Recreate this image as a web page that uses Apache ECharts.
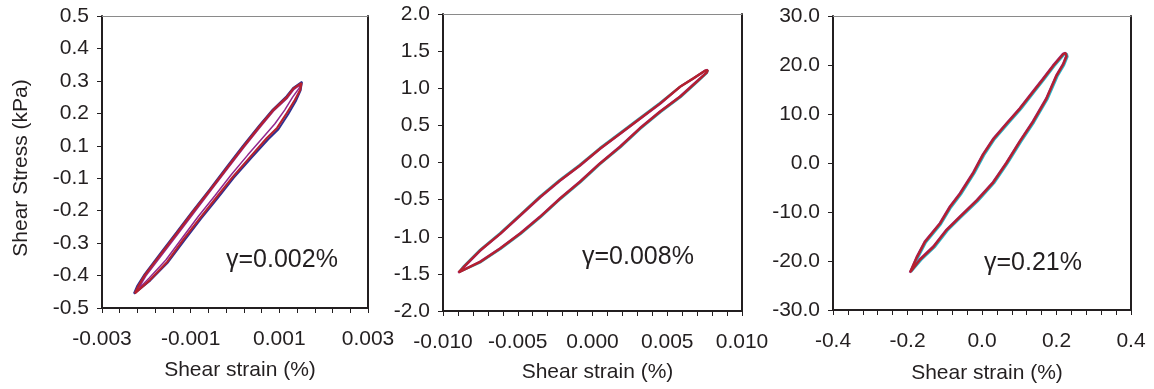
<!DOCTYPE html>
<html>
<head>
<meta charset="utf-8">
<script src="https://cdn.jsdelivr.net/npm/echarts@6/dist/echarts.min.js"></script>
<style>
html,body{margin:0;padding:0;background:#fff;}
#chart{width:1154px;height:389px;}
</style>
</head>
<body>
<div id="chart"></div>
<script>
// ---------- tick labels ----------
var yTicks1 = ['-0.5','-0.4','-0.3','-0.2','-0.1','0.1','0.2','0.3','0.4','0.5'];
var xTicks1 = ['-0.003','-0.001','0.001','0.003'];
var yTicks2 = ['-2.0','-1.5','-1.0','-0.5','0.0','0.5','1.0','1.5','2.0'];
var xTicks2 = ['-0.010','-0.005','0.000','0.005','0.010'];
var yTicks3 = ['-30.0','-20.0','-10.0','0.0','10.0','20.0','30.0'];
var xTicks3 = ['-0.4','-0.2','0.0','0.2','0.4'];
var gammaLabels = ['γ=0.002%','γ=0.008%','γ=0.21%'];
var xTitle = 'Shear strain (%)';
var yTitle = 'Shear Stress (kPa)';

// ---------- panel 1 (γ=0.002%) loops: [strain %, stress kPa] ----------
var p1Blue = [
[-0.00228,-0.406],[-0.00191,-0.365],[-0.00151,-0.309],[-0.00115,-0.243],[-0.00077,-0.175],
[-0.00039,-0.111],[-0.00003,-0.049],[0.00037,0.013],[0.00075,0.070],[0.00098,0.101],
[0.00120,0.147],[0.00137,0.187],[0.00148,0.221],[0.00151,0.247],[0.00131,0.228],
[0.00116,0.202],[0.00085,0.161],[0.00055,0.113],[0.00017,0.048],[-0.00019,-0.016],
[-0.00057,-0.084],[-0.00096,-0.152],[-0.00132,-0.217],[-0.00170,-0.285],[-0.00204,-0.346],
[-0.00221,-0.383],[-0.00228,-0.406]
];
var p1Purple = [
[-0.00224,-0.400],[-0.00194,-0.358],[-0.00156,-0.302],[-0.00120,-0.236],[-0.00083,-0.168],
[-0.00045,-0.103],[-0.00009,-0.040],[0.00029,0.022],[0.00066,0.080],[0.00090,0.118],
[0.00112,0.160],[0.00130,0.200],[0.00145,0.228],[0.00149,0.240],[0.00133,0.224],
[0.00118,0.197],[0.00087,0.157],[0.00057,0.108],[0.00019,0.043],[-0.00017,-0.021],
[-0.00055,-0.089],[-0.00093,-0.157],[-0.00129,-0.222],[-0.00167,-0.290],[-0.00201,-0.351],
[-0.00217,-0.388],[-0.00224,-0.400]
];
var p1Red = [
[-0.00226,-0.405],[-0.00192,-0.364],[-0.00153,-0.308],[-0.00117,-0.240],[-0.00079,-0.173],
[-0.00041,-0.108],[-0.00005,-0.046],[0.00034,0.015],[0.00072,0.074],[0.00095,0.105],
[0.00117,0.151],[0.00135,0.191],[0.00147,0.222],[0.00150,0.243],[0.00132,0.227],
[0.00117,0.200],[0.00086,0.160],[0.00056,0.111],[0.00018,0.046],[-0.00018,-0.018],
[-0.00056,-0.086],[-0.00095,-0.154],[-0.00131,-0.219],[-0.00169,-0.287],[-0.00203,-0.348],
[-0.00219,-0.385],[-0.00226,-0.405]
];

// ---------- panel 2 (γ=0.008%) ----------
var p2Cyan = [
[-0.00892,-1.476],[-0.00747,-1.343],[-0.00613,-1.164],[-0.00479,-0.962],[-0.00346,-0.738],
[-0.00212,-0.490],[-0.00079,-0.266],[0.00055,-0.018],[0.00189,0.206],[0.00322,0.454],
[0.00456,0.678],[0.00590,0.880],[0.00700,1.082],[0.00766,1.206],[0.00773,1.240],
[0.00750,1.232],[0.00671,1.130],[0.00582,1.017],[0.00448,0.800],[0.00314,0.597],
[0.00181,0.395],[0.00047,0.193],[-0.00087,-0.032],[-0.00220,-0.234],[-0.00354,-0.459],
[-0.00487,-0.706],[-0.00621,-0.953],[-0.00755,-1.178],[-0.00866,-1.403],[-0.00892,-1.476]
];
var p2Purple = [
[-0.00899,-1.484],[-0.00754,-1.336],[-0.00620,-1.155],[-0.00486,-0.953],[-0.00353,-0.729],
[-0.00219,-0.481],[-0.00086,-0.257],[0.00048,-0.009],[0.00182,0.215],[0.00315,0.463],
[0.00449,0.687],[0.00583,0.889],[0.00694,1.091],[0.00762,1.212],[0.00769,1.250],
[0.00755,1.240],[0.00678,1.137],[0.00589,1.024],[0.00455,0.792],[0.00321,0.589],
[0.00188,0.387],[0.00054,0.185],[-0.00080,-0.040],[-0.00213,-0.242],[-0.00347,-0.467],
[-0.00480,-0.714],[-0.00614,-0.961],[-0.00748,-1.186],[-0.00859,-1.411],[-0.00899,-1.484]
];
var p2Red = [
[-0.00896,-1.480],[-0.00751,-1.339],[-0.00617,-1.159],[-0.00483,-0.957],[-0.00350,-0.733],
[-0.00216,-0.485],[-0.00083,-0.261],[0.00051,-0.013],[0.00185,0.211],[0.00318,0.459],
[0.00452,0.683],[0.00586,0.885],[0.00697,1.087],[0.00764,1.209],[0.00771,1.245],
[0.00753,1.236],[0.00675,1.133],[0.00586,1.020],[0.00452,0.796],[0.00318,0.593],
[0.00185,0.391],[0.00051,0.189],[-0.00083,-0.036],[-0.00216,-0.238],[-0.00350,-0.463],
[-0.00483,-0.710],[-0.00617,-0.957],[-0.00751,-1.182],[-0.00862,-1.407],[-0.00896,-1.480]
];

// ---------- panel 3 (γ=0.21%) ----------
var p3Cyan = [
[-0.190,-22.2],[-0.163,-19.8],[-0.127,-17.2],[-0.092,-13.8],[-0.056,-11.1],
[-0.011,-7.8],[0.033,-4.1],[0.069,-0.1],[0.105,4.3],[0.140,8.3],
[0.176,13.0],[0.203,17.7],[0.221,20.0],[0.230,21.7],[0.228,22.3],
[0.221,22.1],[0.194,19.7],[0.167,17.0],[0.140,14.4],[0.105,11.0],
[0.069,7.9],[0.033,4.7],[0.006,1.6],[-0.020,-2.1],[-0.056,-6.4],
[-0.083,-9.1],[-0.110,-12.5],[-0.150,-16.2],[-0.172,-19.4],[-0.190,-22.2]
];
var p3Purple = [
[-0.194,-22.4],[-0.167,-19.6],[-0.131,-17.0],[-0.096,-13.6],[-0.060,-10.9],
[-0.015,-7.6],[0.029,-3.9],[0.065,0.1],[0.101,4.5],[0.136,8.5],
[0.172,13.2],[0.199,17.9],[0.217,20.2],[0.226,21.9],[0.224,22.5],
[0.217,22.3],[0.190,19.9],[0.163,17.2],[0.136,14.6],[0.101,11.2],
[0.065,8.1],[0.029,4.9],[0.002,1.8],[-0.024,-1.9],[-0.060,-6.2],
[-0.087,-8.9],[-0.114,-12.3],[-0.154,-16.0],[-0.176,-19.2],[-0.194,-22.4]
];
var p3Red = [
[-0.193,-22.3],[-0.166,-19.7],[-0.130,-17.1],[-0.095,-13.7],[-0.059,-11.0],
[-0.014,-7.7],[0.030,-4.0],[0.066,0.0],[0.102,4.4],[0.137,8.4],
[0.173,13.1],[0.200,17.8],[0.218,20.1],[0.227,21.8],[0.225,22.4],
[0.218,22.2],[0.191,19.8],[0.164,17.1],[0.137,14.5],[0.102,11.1],
[0.066,8.0],[0.030,4.8],[0.003,1.7],[-0.023,-2.0],[-0.059,-6.3],
[-0.086,-9.0],[-0.113,-12.4],[-0.153,-16.1],[-0.175,-19.3],[-0.193,-22.3]
];

// ---------- styling ----------
var TXT = '#231f20';
var AX = '#231f20';
var FONT = '"Liberation Sans", Arial, sans-serif';
var FS = 21;
var C_BLUE = '#2e3192', C_PURPLE = '#92278f', C_RED = '#b5202e', C_CYAN = '#29b6c8';

var grids = [
  {left:102, top:16, width:266, height:292},
  {left:443, top:14, width:299, height:297},
  {left:833, top:16, width:298, height:298}
];
var xCfg = [
  {min:-0.003, max:0.003, interval:0.002, ticks:xTicks1, margin:21, gap:52},
  {min:-0.010, max:0.010, interval:0.005, ticks:xTicks2, margin:21, gap:51},
  {min:-0.4, max:0.4, interval:0.2, ticks:xTicks3, margin:21, gap:53}
];
var yCfg = [
  {min:-0.45, max:0.45, interval:0.1, ticks:yTicks1},
  {min:-2.0, max:2.0, interval:0.5, ticks:yTicks2},
  {min:-30, max:30, interval:10, ticks:yTicks3}
];

function tickFormatter(cfg){
  return function(v){
    var i = Math.round((v - cfg.min) / cfg.interval);
    return cfg.ticks[i] !== undefined ? cfg.ticks[i] : '';
  };
}

var xAxes = [], yAxes = [], series = [];
for (var g = 0; g < 3; g++) {
  var xc = xCfg[g], yc = yCfg[g];
  xAxes.push({
    type:'value', gridIndex:g, position:'bottom', min:xc.min, max:xc.max, interval:xc.interval,
    axisLine:{show:true, onZero:false, lineStyle:{color:AX, width:2}},
    axisTick:{show:true, inside:false, length:5, lineStyle:{color:AX, width:1}},
    minorTick:{show:true, splitNumber:5, length:5, lineStyle:{color:AX, width:1}},
    splitLine:{show:false},
    axisLabel:{formatter:tickFormatter(xc), color:TXT, fontSize:FS, fontFamily:FONT, margin:xc.margin, showMinLabel:true, showMaxLabel:true},
    name:xTitle, nameLocation:'middle', nameGap:xc.gap,
    nameTextStyle:{color:TXT, fontSize:FS, fontFamily:FONT, padding:[0,0,0,10]}
  });
  xAxes.push({
    type:'value', gridIndex:g, position:'top', min:xc.min, max:xc.max, interval:xc.interval,
    axisLine:{show:true, onZero:false, lineStyle:{color:'#8a8a8a', width:1}},
    axisTick:{show:false}, axisLabel:{show:false}, splitLine:{show:false}
  });
  yAxes.push({
    type:'value', gridIndex:g, position:'left', min:yc.min, max:yc.max, interval:yc.interval,
    axisLine:{show:true, onZero:false, lineStyle:{color:AX, width:2}},
    axisTick:{show:true, inside:false, length:5, lineStyle:{color:AX, width:1}},
    splitLine:{show:false},
    axisLabel:{formatter:tickFormatter(yc), color:TXT, fontSize:FS, fontFamily:FONT, margin:13, showMinLabel:true, showMaxLabel:true},
    name: g === 0 ? yTitle : '', nameLocation:'middle', nameGap:70, nameRotate:90,
    nameTextStyle:{color:TXT, fontSize:FS, fontFamily:FONT, padding:[0,0,0,-12]}
  });
  yAxes.push({
    type:'value', gridIndex:g, position:'right', min:yc.min, max:yc.max, interval:yc.interval,
    axisLine:{show:true, onZero:false, lineStyle:{color:AX, width:2}},
    axisTick:{show:false}, axisLabel:{show:false}, splitLine:{show:false}
  });
}

function addSeries(g, data, color, width){
  series.push({
    type:'line', xAxisIndex:g*2, yAxisIndex:g*2, data:data, showSymbol:false, symbol:'none',
    smooth:false, lineStyle:{color:color, width:width}, animation:false, silent:true
  });
}
addSeries(0, p1Blue, C_BLUE, 2);
addSeries(0, p1Purple, C_PURPLE, 1.5);
addSeries(0, p1Red, C_RED, 2.2);
addSeries(1, p2Cyan, C_CYAN, 2);
addSeries(1, p2Purple, C_PURPLE, 2);
addSeries(1, p2Red, C_RED, 2.4);
addSeries(2, p3Cyan, C_CYAN, 2);
addSeries(2, p3Purple, C_PURPLE, 2);
addSeries(2, p3Red, C_RED, 2.4);

var labelPos = [[226,262],[582,259],[984,265]];
var graphics = labelPos.map(function(p, i){
  return {type:'text', left:p[0], top:p[1]-14, style:{text:gammaLabels[i], fill:TXT, fontSize:25, fontFamily:FONT}};
});

var chart = echarts.init(document.getElementById('chart'), null, {renderer:'canvas'});
chart.setOption({
  animation:false,
  backgroundColor:'#ffffff',
  grid:grids,
  xAxis:xAxes,
  yAxis:yAxes,
  series:series,
  graphic:graphics
});
</script>
</body>
</html>
